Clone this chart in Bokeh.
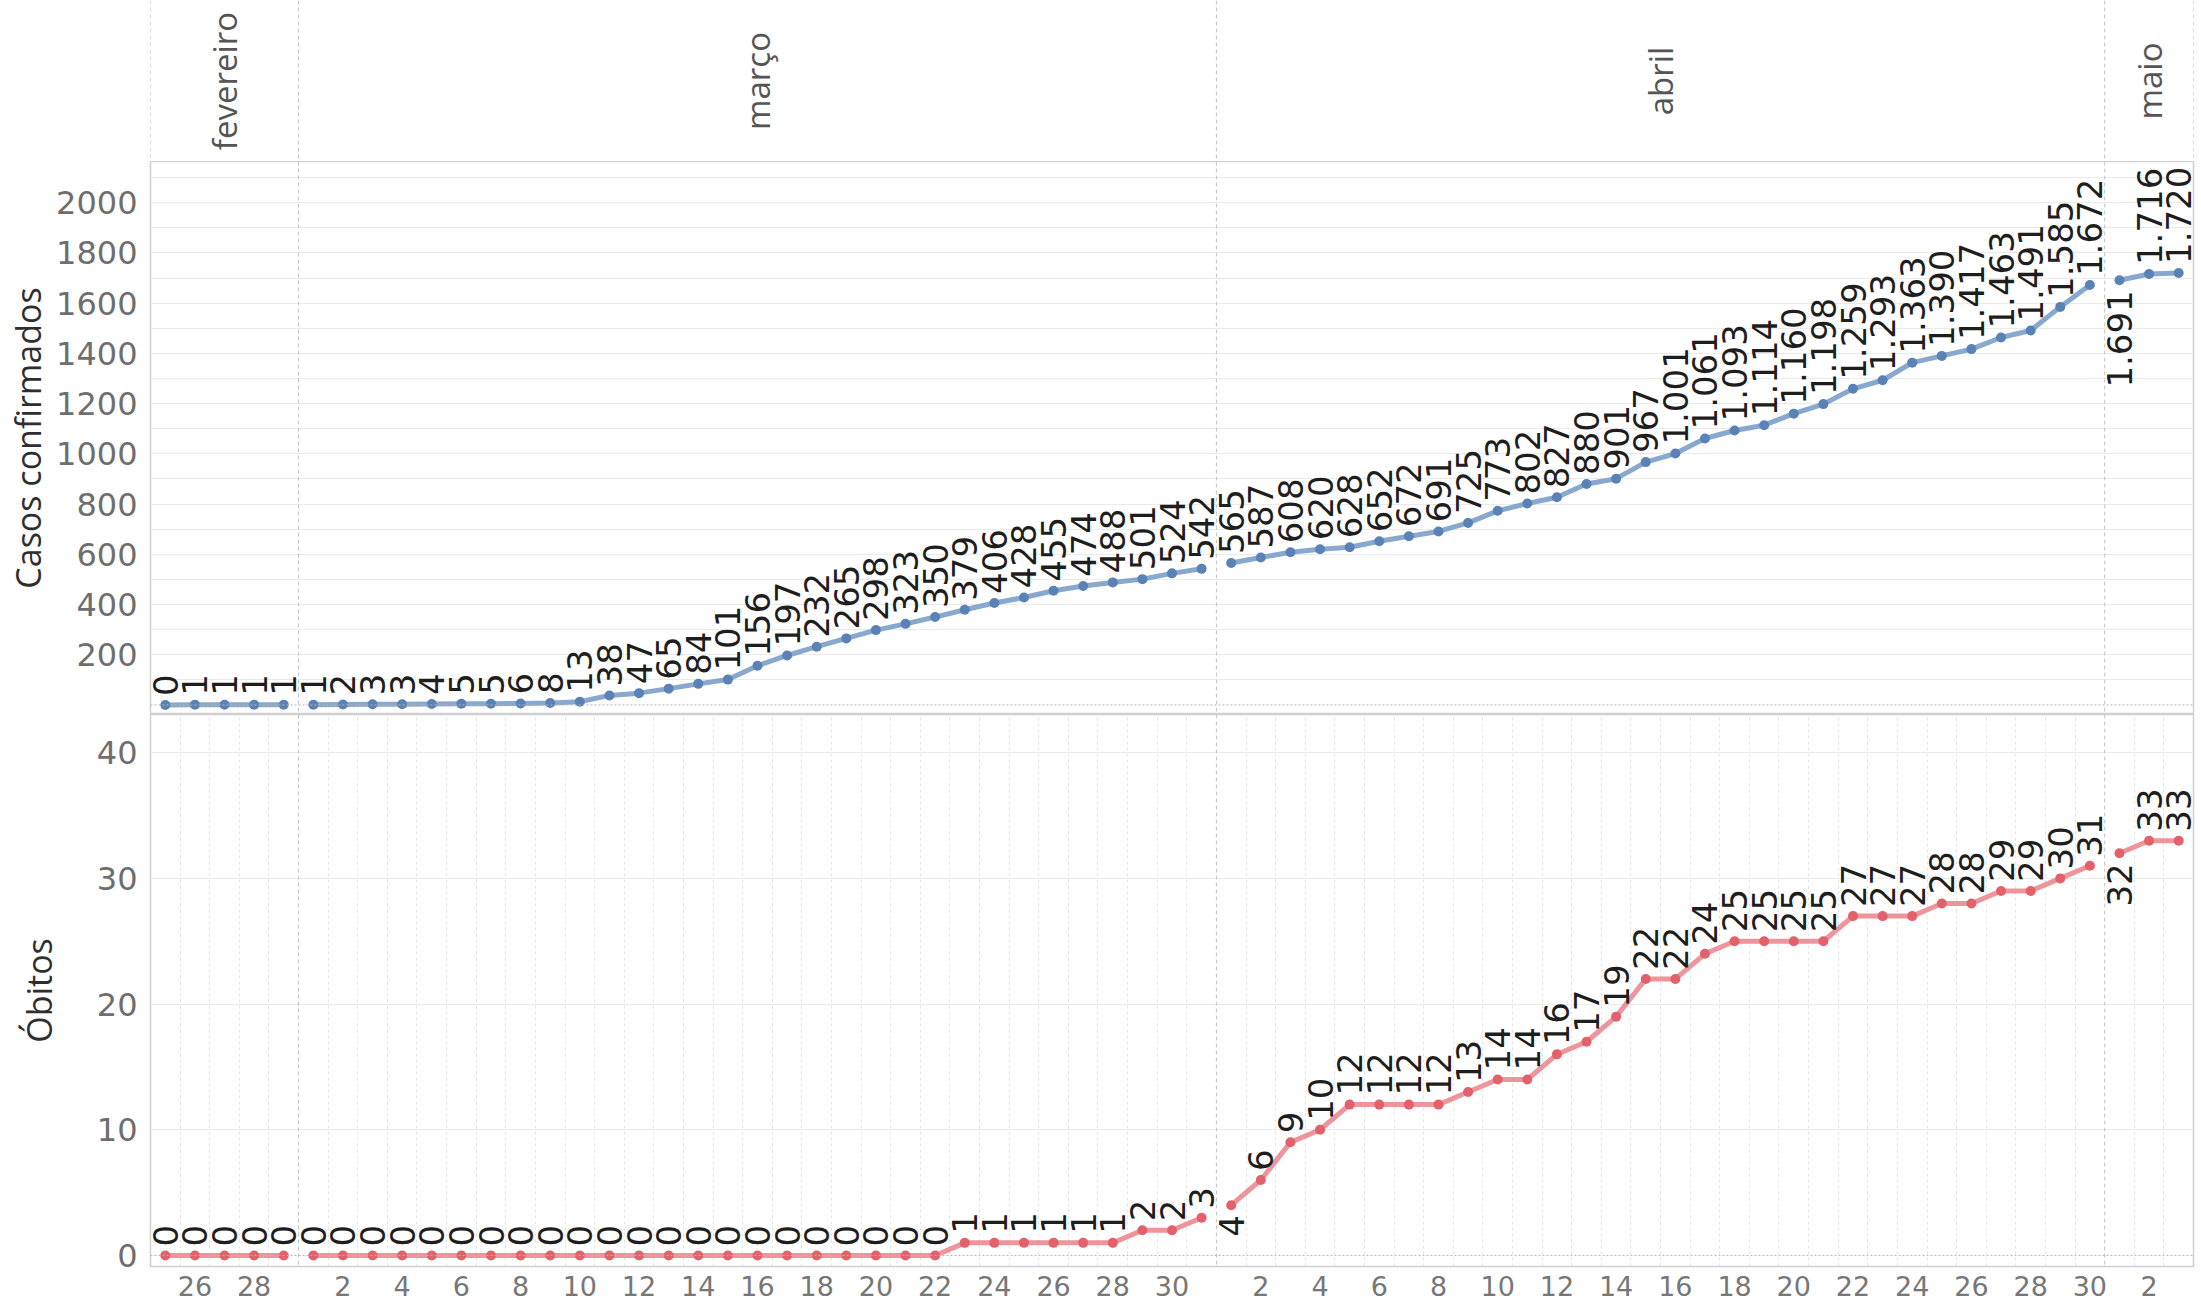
import math
from bokeh.plotting import figure
from bokeh.models import Range1d, FixedTicker, Span, ColumnDataSource, BoxAnnotation
from bokeh.layouts import column
from bokeh.embed import file_html
from bokeh.resources import INLINE
from bokeh.core.properties import value

# ---------------- data ----------------
meses = ["fevereiro", "março", "abril", "maio"]
dias_fev = [25, 26, 27, 28, 29]
dias_mar = [1, 2, 3, 4, 5, 6, 7, 8, 9, 10, 11, 12, 13, 14, 15, 16, 17, 18, 19, 20,
            21, 22, 23, 24, 25, 26, 27, 28, 29, 30, 31]
dias_abr = [1, 2, 3, 4, 5, 6, 7, 8, 9, 10, 11, 12, 13, 14, 15, 16, 17, 18, 19, 20,
            21, 22, 23, 24, 25, 26, 27, 28, 29, 30]
dias_mai = [1, 2, 3]

casos_fev = [0, 1, 1, 1, 1]
casos_mar = [1, 2, 3, 3, 4, 5, 5, 6, 8, 13, 38, 47, 65, 84, 101, 156, 197, 232, 265, 298,
             323, 350, 379, 406, 428, 455, 474, 488, 501, 524, 542]
casos_abr = [565, 587, 608, 620, 628, 652, 672, 691, 725, 773, 802, 827, 880, 901, 967,
             1001, 1061, 1093, 1114, 1160, 1198, 1259, 1293, 1363, 1390, 1417, 1463, 1491, 1585, 1672]
casos_mai = [1691, 1716, 1720]

obitos_fev = [0, 0, 0, 0, 0]
obitos_mar = [0, 0, 0, 0, 0, 0, 0, 0, 0, 0, 0, 0, 0, 0, 0, 0, 0, 0, 0, 0, 0, 0,
              1, 1, 1, 1, 1, 1, 2, 2, 3]
obitos_abr = [4, 6, 9, 10, 12, 12, 12, 12, 13, 14, 14, 16, 17, 19, 22, 22, 24, 25, 25, 25,
              25, 27, 27, 27, 28, 28, 29, 29, 30, 31]
obitos_mai = [32, 33, 33]

ticks_casos = [200, 400, 600, 800, 1000, 1200, 1400, 1600, 1800, 2000]
ticks_obitos = [0, 10, 20, 30, 40]
dias_com_rotulo = [2, 4, 6, 8, 10, 12, 14, 16, 18, 20, 22, 24, 26, 28, 30]

# labels drawn below the point: (month index, day)
abaixo_casos = [(3, 1)]
abaixo_obitos = [(2, 1), (3, 1)]

dias = [dias_fev, dias_mar, dias_abr, dias_mai]
casos = [casos_fev, casos_mar, casos_abr, casos_mai]
obitos = [obitos_fev, obitos_mar, obitos_abr, obitos_mai]

# ---------------- layout constants ----------------
W = 2199
LEFT = 150
RIGHT = 6
H_HEAD = 161
H_TOP = 553
H_BOT = 593
B_BOT = 41

# positions of each day on a continuous axis
xs_mes = []
i0 = 0
for d in dias:
    xs_mes.append(list(range(i0, i0 + len(d))))
    i0 += len(d)
N = i0
PPD = (W - LEFT - RIGHT) / N          # pixels per day
divisorias = [xs[0] - 0.5 for xs in xs_mes] + [N - 0.5]

tick_x, tick_lbl = [], {}
for xs, d in zip(xs_mes, dias):
    for x, dd in zip(xs, d):
        if dd in dias_com_rotulo:
            tick_x.append(x)
            tick_lbl[x] = str(dd)

grid_x = [k - 0.5 for k in range(1, N) if (k - 0.5) not in divisorias]

NUM_FONT = "DejaVu Sans"
TXT_FONT = "Open Sans"
SEP = "#d0d0d0"
DASH = "#c4c4c4"


def fmt(v):
    return f"{v:,}".replace(",", ".")


def style_fig(p):
    p.background_fill_color = "white"
    p.border_fill_color = "white"


# ---------------- header ----------------
head = figure(width=W, height=H_HEAD, x_range=Range1d(-0.5, N - 0.5),
              y_range=Range1d(0, 1), toolbar_location=None, output_backend="svg",
              min_border_left=LEFT, min_border_right=RIGHT, min_border_top=0,
              min_border_bottom=0, x_axis_type=None, y_axis_type=None)
style_fig(head)
head.outline_line_color = None
head.grid.visible = False
cx = [(xs[0] + xs[-1]) / 2 for xs in xs_mes]
head.text(x=cx, y=[0.5] * len(cx), text=meses, angle=math.pi / 2,
          text_align="center", text_baseline="middle",
          text_font=value(TXT_FONT), text_font_size="33px", text_color="#555555")
for dv in divisorias:
    head.add_layout(Span(location=dv, dimension="height", line_color=DASH,
                         line_dash="4 3", line_width=1))


# ---------------- panels ----------------
def painel(series, nome, y0, y1, height, bottom, ticks, grid_ticks, cor_linha, cor_ponto,
           abaixo, title_standoff, show_x):
    p = figure(width=W, height=height, x_range=Range1d(-0.5, N - 0.5),
               y_range=Range1d(y0, y1), toolbar_location=None, output_backend="svg",
               min_border_left=LEFT, min_border_right=RIGHT, min_border_top=0,
               min_border_bottom=bottom, x_axis_type="linear" if show_x else None)
    style_fig(p)
    p.outline_line_color = SEP
    p.outline_line_width = 1.5

    # grids
    p.ygrid.ticker = FixedTicker(ticks=grid_ticks)
    p.ygrid.grid_line_color = "#ebebeb"
    p.ygrid.grid_line_width = 1
    p.xgrid.ticker = FixedTicker(ticks=grid_x)
    p.xgrid.grid_line_color = "#e4e4e4"
    p.xgrid.grid_line_dash = "3 3"

    for dv in divisorias[1:-1]:
        p.add_layout(Span(location=dv, dimension="height", line_color=DASH,
                          line_dash="4 3", line_width=1))
    p.add_layout(Span(location=0, dimension="width", line_color="#b5b5b5",
                      line_dash="2 2", line_width=1))

    # separator lines continuing into the left margin (frame top / bottom)
    upp = (y1 - y0) / (height - bottom)          # data units per pixel
    x_margin = -0.5 - (LEFT - 7) / PPD
    for yb in (y1 - 1.5 * upp, y0):
        p.add_layout(BoxAnnotation(left=x_margin, right=-0.5, bottom=yb, top=yb + 1.5 * upp,
                                   fill_color=SEP, fill_alpha=1, line_color=None,
                                   level="overlay"))

    # y axis
    ya = p.yaxis[0]
    ya.ticker = FixedTicker(ticks=ticks)
    ya.axis_line_color = None
    ya.major_tick_out = 0
    ya.major_tick_in = 0
    ya.minor_tick_out = 0
    ya.minor_tick_in = 0
    ya.major_label_standoff = 13
    ya.major_label_text_font = NUM_FONT
    ya.major_label_text_font_size = "32px"
    ya.major_label_text_color = "#6e6e6e"
    ya.axis_label = nome
    ya.axis_label_text_font = TXT_FONT
    ya.axis_label_text_font_size = "34px"
    ya.axis_label_text_font_style = "normal"
    ya.axis_label_text_color = "#2e2e2e"
    ya.axis_label_standoff = title_standoff

    if show_x:
        xa = p.xaxis[0]
        xa.ticker = FixedTicker(ticks=tick_x)
        xa.major_label_overrides = tick_lbl
        xa.axis_line_color = None
        xa.major_tick_out = 0
        xa.major_tick_in = 0
        xa.minor_tick_out = 0
        xa.minor_tick_in = 0
        xa.major_label_standoff = 9
        xa.major_label_text_font = NUM_FONT
        xa.major_label_text_font_size = "27px"
        xa.major_label_text_color = "#777777"
        # dashed month dividers continuing through the date-label strip
        for dv in divisorias:
            p.add_layout(BoxAnnotation(left=dv, right=dv, top=y0, bottom=y0 - bottom * upp,
                                       fill_color=None, line_color=DASH, line_dash="4 3",
                                       line_width=1, level="overlay"))

    up = dict(x=[], y=[], t=[])
    dn = dict(x=[], y=[], t=[])
    for m, (xs, vals, d) in enumerate(zip(xs_mes, series, dias)):
        p.line(xs, vals, line_color=cor_linha, line_width=5, line_alpha=0.9)
        p.scatter(xs, vals, size=10, fill_color=cor_ponto, line_color=None)
        for x, v, dd in zip(xs, vals, d):
            tgt = dn if (m, dd) in abaixo else up
            tgt["x"].append(x)
            tgt["y"].append(v)
            tgt["t"].append(fmt(v))
    common = dict(angle=math.pi / 2, text_baseline="middle", text_font=value(NUM_FONT),
                  text_font_size="34px", text_color="#1e1e1e")
    p.text(x="x", y="y", text="t", source=ColumnDataSource(up), text_align="left",
           y_offset=-9, **common)
    p.text(x="x", y="y", text="t", source=ColumnDataSource(dn), text_align="right",
           y_offset=10, **common)
    return p


top = painel(casos, "Casos confirmados", -38, 2164, H_TOP, 0, ticks_casos,
             list(range(100, 2200, 100)), "#7b9ec9", "#5a82b6", abaixo_casos, 2, False)
bot = painel(obitos, "Óbitos", -0.88, 43.04, H_BOT, B_BOT, ticks_obitos,
             [10, 20, 30, 40], "#ec8890", "#e2616b", abaixo_obitos, 32, True)

layout = column(head, top, bot, spacing=0)
open("out.html", "w").write(file_html(layout, INLINE))
